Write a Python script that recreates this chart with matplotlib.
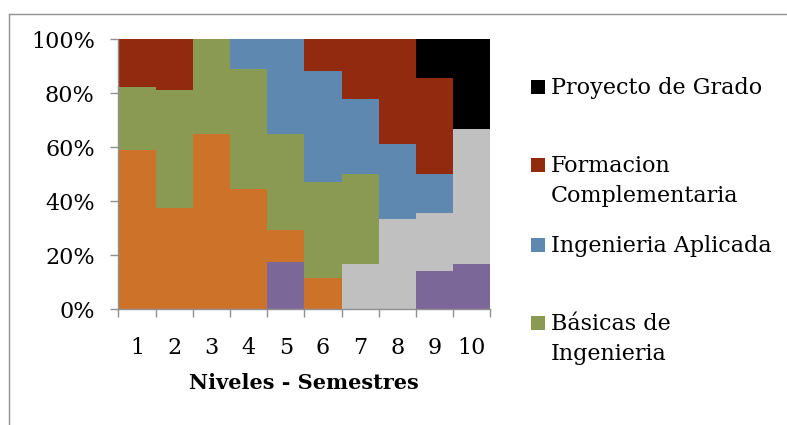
import matplotlib
matplotlib.use("Agg")
import matplotlib.pyplot as plt
import numpy as np
from matplotlib.lines import Line2D
from matplotlib.patches import Rectangle

niveles = ["1", "2", "3", "4", "5", "6", "7", "8", "9", "10"]
# series in stacking order (bottom to top)
series_names = ["Serie 7", "Serie 6", "Serie 5", "Básicas de\nIngenieria",
                "Ingenieria Aplicada", "Formacion\nComplementaria", "Proyecto de Grado"]
purple_vals = [0, 0, 0, 0, 3, 0, 0, 0, 2, 2]
orange_vals = [10, 6, 11, 8, 2, 2, 0, 0, 0, 0]
grey_vals = [0, 0, 0, 0, 0, 0, 3, 6, 3, 6]
basicas_ing = [4, 7, 6, 8, 6, 6, 6, 0, 0, 0]
ing_aplicada = [0, 0, 0, 2, 6, 7, 5, 5, 2, 0]
formacion_comp = [3, 3, 0, 0, 0, 2, 4, 7, 5, 0]
proyecto_grado = [0, 0, 0, 0, 0, 0, 0, 0, 2, 4]
colors = ["#7B6898", "#CC7229", "#C0C0C0", "#8A9A52", "#5E88B0", "#922A10", "#000000"]

data = np.array([purple_vals, orange_vals, grey_vals, basicas_ing,
                 ing_aplicada, formacion_comp, proyecto_grado], dtype=float)
pct = data / data.sum(axis=0) * 100

plt.rcParams['font.family'] = ['DejaVu Serif']
fig = plt.figure(figsize=(7.87, 4.25), dpi=100)
ax = fig.add_axes([118.3 / 787, 1 - 309.3 / 425, (490.3 - 118.3) / 787, (309.3 - 39) / 425])

x = np.arange(len(niveles))
bottom = np.zeros(len(niveles))
for i in range(len(pct)):
    ax.bar(x, pct[i], bottom=bottom, width=1.0, color=colors[i], linewidth=0)
    bottom += pct[i]

ax.set_xlim(-0.5, len(niveles) - 0.5)
ax.set_ylim(0, 100)
ax.set_yticks([0, 20, 40, 60, 80, 100])
ax.set_yticklabels([f"{v}%" for v in [0, 20, 40, 60, 80, 100]], fontsize=16)
ax.set_xticks(x)
ax.set_xticklabels(niveles, fontsize=16)
ax.set_xticks(np.arange(-0.5, len(niveles), 1.0), minor=True)
ax.tick_params(axis='x', which='major', length=0, pad=20)
ax.tick_params(axis='x', which='minor', length=6, width=1, color="#909090", direction='out')
ax.tick_params(axis='y', length=6, width=1, color="#909090", direction='out', pad=11)
for s in ["top", "right"]:
    ax.spines[s].set_visible(False)
for s in ["left", "bottom"]:
    ax.spines[s].set_color("#909090")
    ax.spines[s].set_linewidth(1)
ax.set_xlabel("Niveles - Semestres", fontsize=15, fontweight='bold', labelpad=10)

# legend (entries visible in reference)
legend_items = [(6, 87), (5, 165), (4, 245), (3, 323)]
for idx, ypx in legend_items:
    fig.patches.append(Rectangle((531 / 787, 1 - (ypx + 7) / 425), 14 / 787, 14 / 425,
                                 transform=fig.transFigure, facecolor=colors[idx],
                                 edgecolor='none'))
    fig.text(551 / 787, 1 - (ypx - 10) / 425, series_names[idx], fontsize=16,
             va='top', ha='left', linespacing=1.45)

# outer frame (left and top)
fig.add_artist(Line2D([9 / 787, 9 / 787], [0, 1 - 14 / 425], transform=fig.transFigure,
                      color="#909090", linewidth=1))
fig.add_artist(Line2D([9 / 787, 1], [1 - 14 / 425, 1 - 14 / 425], transform=fig.transFigure,
                      color="#909090", linewidth=1))

fig.savefig("out.png", dpi=100)
